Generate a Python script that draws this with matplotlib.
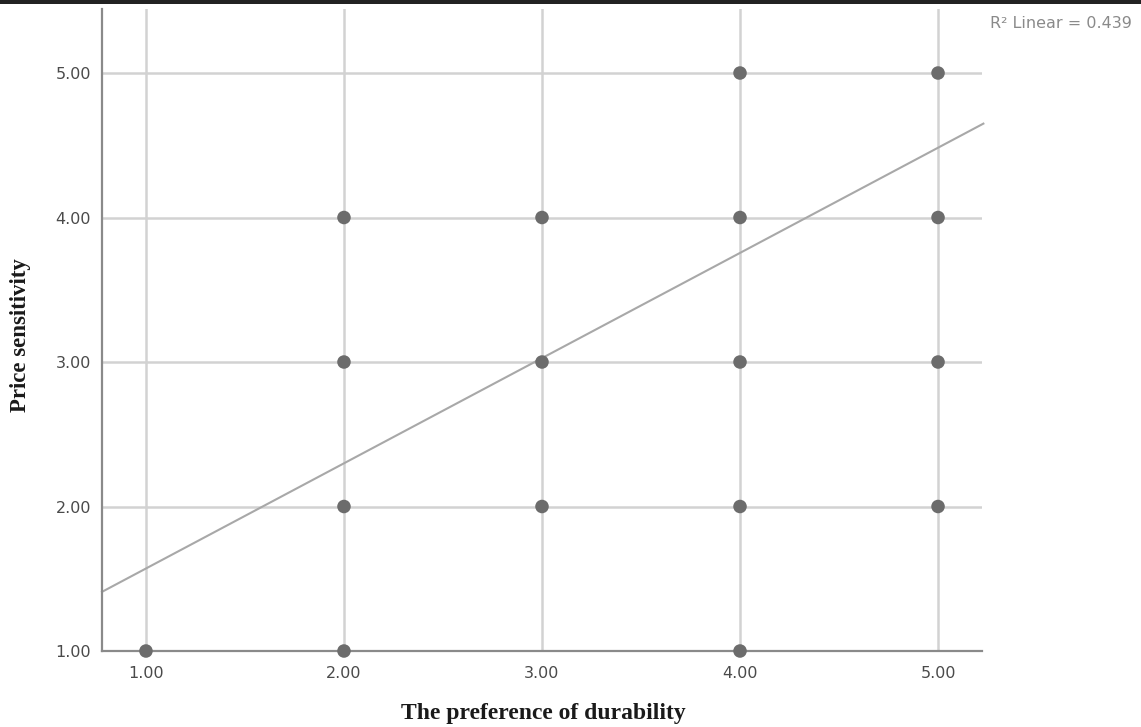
import matplotlib
matplotlib.use("Agg")
import matplotlib.pyplot as plt
from matplotlib.patches import Rectangle
import numpy as np

# Observed (durability preference, price sensitivity) combinations
durability = [1, 2, 4,
              2, 3, 4, 5,
              2, 3, 4, 5,
              2, 3, 4, 5,
              4, 5]
price_sens = [1, 1, 1,
              2, 2, 2, 2,
              3, 3, 3, 3,
              4, 4, 4, 4,
              5, 5]

# Fitted linear trend
fit_intercept = 0.843
fit_slope = 0.728
r_squared = 0.439

tick_values = [1.0, 2.0, 3.0, 4.0, 5.0]
tick_labels = ["1.00", "2.00", "3.00", "4.00", "5.00"]

W, H = 1141, 727
fig = plt.figure(figsize=(W / 100, H / 100), dpi=100)
fig.patch.set_facecolor("white")

left, right, top, bottom = 102, 982, 9, 651
ax = fig.add_axes([left / W, 1 - bottom / H, (right - left) / W, (bottom - top) / H])

xmin, xmax = 0.778, 5.222
ymin, ymax = 1.0, 5.443
ax.set_xlim(xmin, xmax)
ax.set_ylim(ymin, ymax)

grid_c = "#d2d2d2"
ax.set_xticks(tick_values)
ax.set_yticks(tick_values)
ax.set_xticklabels(tick_labels)
ax.set_yticklabels(tick_labels)
ax.grid(True, color=grid_c, linewidth=1.8, zorder=0)
ax.set_axisbelow(True)
ax.tick_params(axis="both", length=0, labelsize=11.5, labelcolor="#4a4a4a")
ax.tick_params(axis="x", pad=11)
ax.tick_params(axis="y", pad=8)
for lab in ax.get_xticklabels() + ax.get_yticklabels():
    lab.set_family("DejaVu Sans")

for s in ["top", "right"]:
    ax.spines[s].set_visible(False)
for s in ["left", "bottom"]:
    ax.spines[s].set_color("#8a8a8a")
    ax.spines[s].set_linewidth(1.6)

# Regression line spanning the plot width
xs = np.array([xmin, 5.229])
ax.plot(xs, fit_intercept + fit_slope * xs, color="#a8a8a8", linewidth=1.5,
        zorder=2, clip_on=False)

ax.scatter(durability, price_sens, s=95, color="#6c6c6c", edgecolors="none",
           zorder=3, clip_on=False)

ax.set_xlabel("The preference of durability", family="Liberation Serif",
              fontweight="bold", fontsize=17, color="#1a1a1a", va="center")
ax.set_ylabel("Price sensitivity", family="Liberation Serif",
              fontweight="bold", fontsize=16.5, color="#1a1a1a", va="center")
ax.xaxis.set_label_coords(543 / W, 1 - 714 / H, transform=fig.transFigure)
ax.yaxis.set_label_coords(21 / W, 1 - 335 / H, transform=fig.transFigure)

fig.text(990 / W, 1 - 24 / H, f"R\u00b2 Linear = {r_squared:.3f}",
         ha="left", va="center", fontsize=11.5, color="#8a8a8a",
         family="DejaVu Sans")

# Dark band across the top edge
fig.patches.append(Rectangle((0, 1 - 4 / H), 1, 4 / H, transform=fig.transFigure,
                             facecolor="#222222", edgecolor="none"))

fig.savefig("out.png", dpi=100)
